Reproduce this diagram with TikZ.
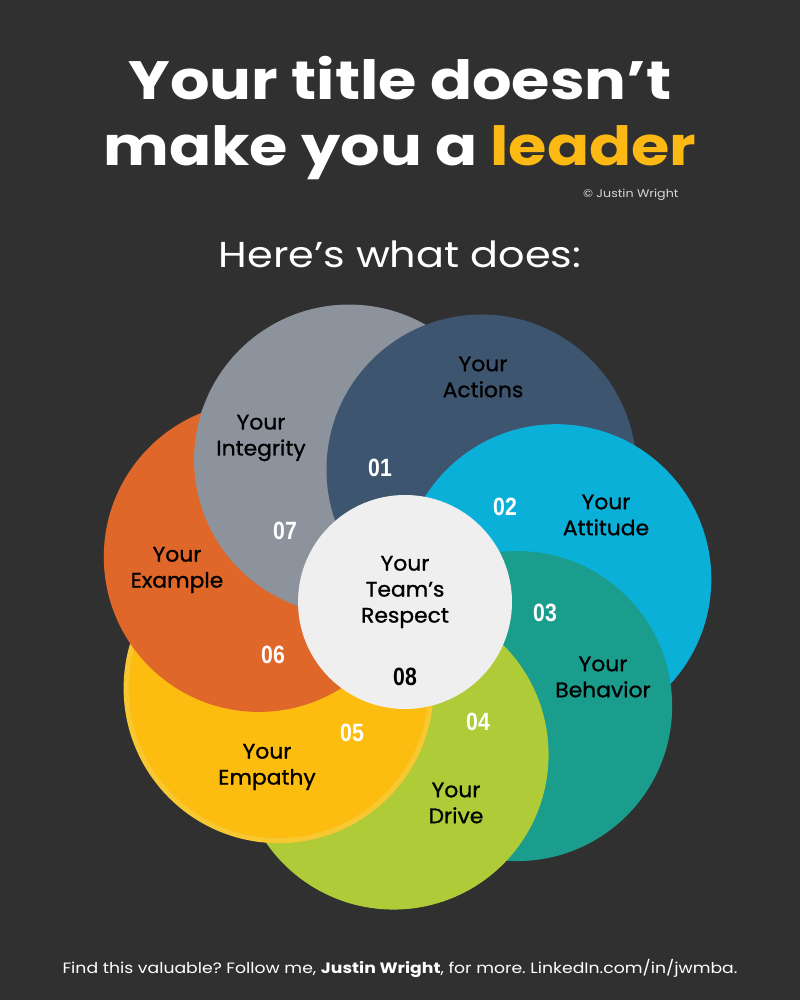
\documentclass[tikz,border=0pt]{standalone}
\usepackage{fontspec}
\setmainfont{Poppins}
\newfontfamily\widefont[FakeStretch=1.15]{Poppins}
\newfontfamily\lblfont[FakeBold=1, FakeStretch=1.04]{Poppins}
\newfontfamily\numfont[FakeStretch=0.85]{Liberation Sans}
\usepackage{xcolor}
\usepackage{tikz}
\usetikzlibrary{positioning}
\definecolor{bg}{HTML}{303030}
\definecolor{gold}{HTML}{FDB913}
\definecolor{mslate}{HTML}{3E5570}
\definecolor{mcyan}{HTML}{0BB0D8}
\definecolor{mteal}{HTML}{1A9D8C}
\definecolor{mlime}{HTML}{AFCB38}
\definecolor{myellow}{HTML}{FDBD10}
\definecolor{myrim}{HTML}{F8C832}
\definecolor{morange}{HTML}{E0672A}
\definecolor{mgrey}{HTML}{8C939C}
\definecolor{mlight}{HTML}{EFEFEF}
\tikzset{
  petal/.style={circle, fill=#1, draw=none, minimum size=310pt, inner sep=0pt},
  ttl/.style={font=\widefont\bfseries\fontsize{54}{60}\selectfont, text=white},
  sub/.style={font=\widefont\fontsize{36}{42}\selectfont, text=white},
  plbl/.style={font=\lblfont\fontsize{21}{26}\selectfont, text=black, align=center},
  num/.style={font=\numfont\bfseries\fontsize{25}{25}\selectfont, text=white},
  foot/.style={font=\widefont\fontsize{15}{18}\selectfont, text=white}
}
\frenchspacing
\begin{document}
\begin{tikzpicture}[x=1pt, y=1pt]
  \fill[bg] (0,0) rectangle (800,1000);
  \useasboundingbox (0,0) rectangle (800,1000);

  \node[ttl, anchor=base] (title1) at (400,900) {Your title doesn’t};
  \node[ttl, anchor=base] (title2) at (400,834) {make you a \textcolor{gold}{leader}};
  \node[font=\widefont\fontsize{11}{13}\selectfont, text=white!80!bg, anchor=base east] (copy) at (682,802) {© Justin Wright};
  \node[sub, anchor=base] (sub) at (400,732) {Here’s what does:};

  % petals, each one lying on the one before
  \coordinate (hub) at (405,398);
  \node[petal=mgrey] (integrity) at ([shift={(111.43:153)}]hub) {};
  \foreach \name/\ang/\col in {actions/60/mslate, attitude/8.57/mcyan, behavior/-42.86/mteal,
                               drive/-94.29/mlime}
    \node[petal=\col] (\name) at ([shift={(\ang:153)}]hub) {};
  \node[petal=myellow, draw=myrim, line width=5pt, minimum size=305pt] (empathy)
    at ([shift={(-145.71:153)}]hub) {};
  \node[petal=morange] (example) at ([shift={(162.86:153)}]hub) {};
  % close the ring: integrity goes back over example, actions over both
  \begin{scope}
    \clip (example.center) circle[radius=157];
    \fill[mgrey] (integrity.center) circle[radius=155];
  \end{scope}
  \begin{scope}
    \clip (example.center) circle[radius=161];
    \fill[mslate] (actions.center) circle[radius=155];
  \end{scope}
  \node[circle, fill=mlight, minimum size=214pt, inner sep=0pt] (respect) at (hub) {};

  \node[plbl] (lactions) at (483,623) {Your\\Actions};
  \node[plbl] (lattitude) at (606,485) {Your\\Attitude};
  \node[plbl] (lbehavior) at (603,323) {Your\\Behavior};
  \node[plbl] (ldrive) at (456,197) {Your\\Drive};
  \node[plbl] (lempathy) at (267,233) {Your\\Empathy};
  \node[plbl] (lexample) at (177,430) {Your\\Example};
  \node[plbl] (lintegrity) at (261,562) {Your\\Integrity};
  \node[plbl] (lrespect) at (405,408) {Your\\Team’s\\Respect};

  \node[num] (n1) at (380,532) {01};
  \node[num] (n2) at (505,493) {02};
  \node[num] (n3) at (545,387) {03};
  \node[num] (n4) at (478,278) {04};
  \node[num] (n5) at (352,267) {05};
  \node[num] (n6) at (273,345) {06};
  \node[num] (n7) at (285,469) {07};
  \node[num, text=black] (n8) at (405,323) {08};

  \node[foot, anchor=base] (foot) at (400,27)
    {Find this valuable? Follow me, \textbf{Justin Wright}, for more. LinkedIn.com/in/jwmba.};
\end{tikzpicture}
\end{document}
